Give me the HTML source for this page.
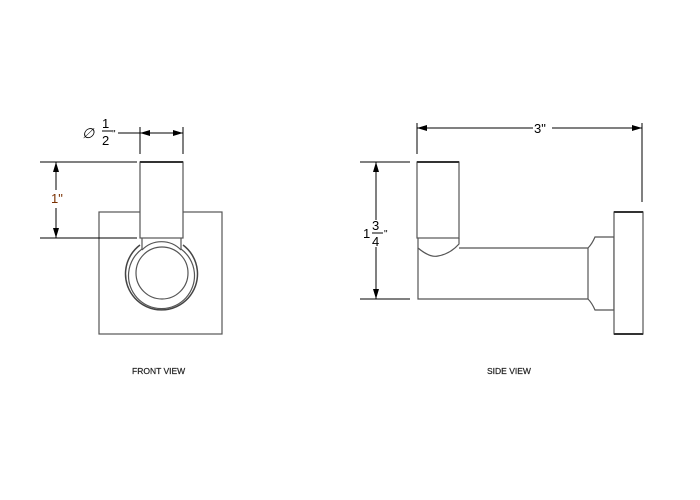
<!DOCTYPE html>
<html><head><style>
body{margin:0;background:#fff}
svg{display:block}
text{font-family:"Liberation Sans",sans-serif}
</style></head><body>
<svg width="700" height="500" viewBox="0 0 700 500">
<defs>
<marker id="a" viewBox="0 0 10 6" refX="10" refY="3" markerWidth="10" markerHeight="6" orient="auto-start-reverse" markerUnits="userSpaceOnUse"><path d="M0,0 L10,3 L0,6z" fill="#000"/></marker>
</defs>
<g fill="none" stroke="#555" stroke-width="1.2">
<rect x="99" y="212" width="123" height="122" fill="#fff"/>
<rect x="140" y="162" width="43" height="76" fill="#fff"/>
<line x1="140" y1="162" x2="183" y2="162" stroke="#333" stroke-width="2"/>
<line x1="142" y1="238" x2="142" y2="250"/><line x1="181" y1="238" x2="181" y2="250"/>
<path d="M140,245 A36,36 0 1 0 183,245" stroke="#444" stroke-width="1.5"/>
<path d="M142,249 A33,33 0 1 0 181,249"/>
<circle cx="162" cy="273" r="26"/>
<path d="M142,250 A27,27 0 0 1 181,250"/>
<rect x="417" y="162" width="42" height="76" fill="#fff"/>
<line x1="417" y1="162" x2="459" y2="162" stroke="#333" stroke-width="2"/>
<path d="M418,248 L418,299 L588,299 Q592,303 595,310 L614,310 L614,237 L595,237 Q592,244 588,248 L459,248"/>
<path d="M418,238 L418,248 Q430,258 438,256 Q450,254 459,244 L459,238"/>
<line x1="588" y1="248" x2="588" y2="299"/>
<rect x="614" y="212" width="29" height="122" fill="#fff"/>
<line x1="614" y1="212" x2="643" y2="212" stroke="#333" stroke-width="2"/>
<line x1="614" y1="334" x2="643" y2="334" stroke="#333" stroke-width="2"/>
</g>
<g stroke="#000" stroke-width="1" fill="none">
<line x1="140" y1="127" x2="140" y2="154"/><line x1="183" y1="127" x2="183" y2="154"/>
<line x1="118" y1="133" x2="183" y2="133"/>
<line x1="150" y1="133" x2="140" y2="133" marker-end="url(#a)"/>
<line x1="173" y1="133" x2="183" y2="133" marker-end="url(#a)"/>
<line x1="40" y1="162" x2="137" y2="162"/><line x1="40" y1="238" x2="137" y2="238"/>
<line x1="56" y1="162" x2="56" y2="190" marker-start="url(#a)"/>
<line x1="56" y1="208" x2="56" y2="238" marker-end="url(#a)"/>
<line x1="417" y1="123" x2="417" y2="154"/><line x1="642" y1="123" x2="642" y2="202"/>
<line x1="417" y1="128" x2="533" y2="128" marker-start="url(#a)"/>
<line x1="552" y1="128" x2="642" y2="128" marker-end="url(#a)"/>
<line x1="360" y1="162" x2="410" y2="162"/><line x1="360" y1="299" x2="410" y2="299"/>
<line x1="376" y1="162" x2="376" y2="220" marker-start="url(#a)"/>
<line x1="376" y1="247" x2="376" y2="299" marker-end="url(#a)"/>
<line x1="102" y1="131" x2="112" y2="131"/>
<line x1="372" y1="233" x2="383" y2="233"/>
</g>
<g font-size="13" fill="#000">
<text x="82" y="138" font-size="14" font-style="italic">∅</text>
<text x="102" y="128">1</text><text x="102" y="145">2</text><text x="112" y="137" font-size="10">"</text>
<text x="51" y="203" fill="#7a3000">1"</text>
<text x="534" y="133">3"</text>
<text x="363" y="238">1</text><text x="372" y="230">3</text><text x="372" y="246">4</text><text x="384" y="237" font-size="10">"</text>
</g>
<g font-size="8.5" fill="#222" stroke="#222" stroke-width="0.2">
<text x="132" y="374">FRONT VIEW</text>
<text x="487" y="374">SIDE VIEW</text>
</g>
</svg>
</body></html>
